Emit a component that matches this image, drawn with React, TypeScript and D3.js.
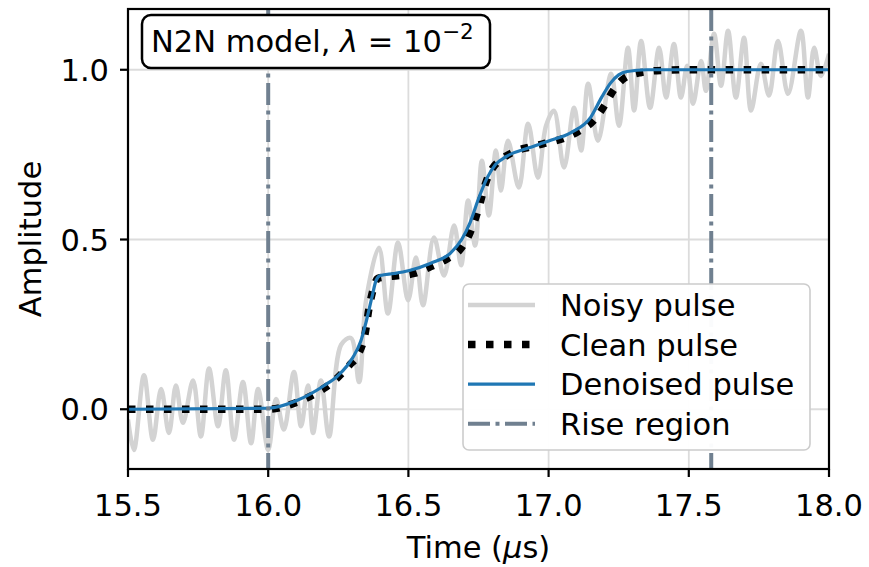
import React from "react";
import * as d3 from "d3";

const xTicks = [15.5, 16.0, 16.5, 17.0, 17.5, 18.0];
const yTicks = [0.0, 0.5, 1.0];
const riseRegion = [16.0, 17.58];

const cleanT = [15.5, 16.0, 16.1, 16.15, 16.2, 16.25, 16.29, 16.32, 16.345, 16.36, 16.375, 16.39, 16.42, 16.46, 16.52, 16.58, 16.64, 16.69, 16.72, 16.75, 16.775, 16.8, 16.83, 16.87, 16.93, 16.98, 17.05, 17.11, 17.16, 17.2, 17.23, 17.27, 17.33, 17.4, 17.5, 18.0];
const cleanV = [0, 0, 0.02, 0.038, 0.062, 0.095, 0.13, 0.16, 0.22, 0.3, 0.355, 0.385, 0.39, 0.393, 0.4, 0.42, 0.444, 0.476, 0.52, 0.59, 0.665, 0.71, 0.735, 0.756, 0.772, 0.782, 0.797, 0.82, 0.85, 0.895, 0.938, 0.975, 0.992, 0.998, 1.0, 1.0];

const denT = [15.5, 16.0, 16.1, 16.2, 16.25, 16.3, 16.33, 16.35, 16.37, 16.385, 16.4, 16.45, 16.5, 16.58, 16.65, 16.69, 16.72, 16.75, 16.78, 16.81, 16.85, 16.93, 17.0, 17.08, 17.15, 17.19, 17.22, 17.25, 17.28, 17.35, 18.0];
const denV = [0, 0.003, 0.025, 0.07, 0.1, 0.15, 0.2, 0.26, 0.33, 0.38, 0.394, 0.4, 0.408, 0.43, 0.46, 0.5, 0.55, 0.62, 0.68, 0.72, 0.745, 0.77, 0.79, 0.815, 0.86, 0.92, 0.96, 0.985, 0.995, 1.0, 1.0];

const noisyT = [15.5, 15.521, 15.557, 15.589, 15.618, 15.646, 15.671, 15.696, 15.732, 15.76, 15.789, 15.821, 15.849, 15.878, 15.91, 15.939, 15.964, 16.0, 16.028, 16.056, 16.092, 16.117, 16.142, 16.16, 16.188, 16.217, 16.26, 16.295, 16.324, 16.349, 16.395, 16.427, 16.463, 16.499, 16.527, 16.552, 16.591, 16.627, 16.663, 16.688, 16.713, 16.738, 16.762, 16.787, 16.812, 16.83, 16.855, 16.894, 16.927, 16.962, 16.991, 17.019, 17.055, 17.091, 17.116, 17.141, 17.176, 17.223, 17.251, 17.283, 17.305, 17.33, 17.362, 17.394, 17.419, 17.447, 17.472, 17.494, 17.515, 17.544, 17.561, 17.59, 17.615, 17.64, 17.668, 17.697, 17.722, 17.757, 17.786, 17.818, 17.854, 17.9, 17.925, 17.947, 17.971, 18.0];
const noisyV = [-0.03, -0.12, 0.1, -0.09, 0.06, -0.07, 0.07, -0.04, 0.085, -0.08, 0.12, -0.05, 0.115, -0.09, 0.08, -0.1, 0.06, -0.12, 0.03, -0.06, 0.11, -0.05, 0.07, -0.07, 0.085, -0.08, 0.19, 0.21, 0.08, 0.32, 0.476, 0.282, 0.491, 0.321, 0.447, 0.306, 0.506, 0.394, 0.541, 0.424, 0.615, 0.482, 0.732, 0.571, 0.762, 0.644, 0.791, 0.653, 0.841, 0.682, 0.835, 0.879, 0.712, 0.888, 0.762, 0.959, 0.791, 0.988, 0.835, 1.065, 0.88, 1.085, 0.888, 1.065, 0.918, 1.076, 0.918, 1.012, 0.9, 1.026, 0.938, 1.106, 0.953, 1.115, 0.918, 1.094, 0.88, 1.018, 0.924, 1.085, 0.929, 1.115, 0.918, 1.065, 0.982, 1.047];

const legendItems = ["Noisy pulse", "Clean pulse", "Denoised pulse", "Rise region"];

const W = 869, H = 567;
const M = { left: 128, right: 829, top: 9, bottom: 469 };
const FONT = "DejaVu Sans";
const FS = 30.5;

export default function App() {
  const x = d3.scaleLinear().domain([15.5, 18.0]).range([M.left, M.right]);
  const y = d3.scaleLinear().domain([-0.176, 1.179]).range([M.bottom, M.top]);

  const zip = (ts: number[], vs: number[]) => ts.map((t, i) => [t, vs[i]] as [number, number]);
  const lineMono = d3.line<[number, number]>().x(d => x(d[0])).y(d => y(d[1])).curve(d3.curveMonotoneX);
  const lineNoisy = d3.line<[number, number]>().x(d => x(d[0])).y(d => y(d[1])).curve(d3.curveCatmullRom.alpha(0.5));

  const slate = "#708090";
  const lw = 7.5;
  const dotDash = `7.5 10.5`;
  const rlw = 4;
  const dashDot = `22 5.5 4 5.5`;

  const legX = 463, legY = 284, legW = 347, legH = 166;
  const rowY = (i: number) => legY + 21 + i * 39.6;
  const hx0 = 468, hx1 = 535;

  return (
    <svg width={W} height={H} style={{ position: "absolute", left: 0, top: 0 }} fontFamily={FONT}>
      <defs>
        <clipPath id="plotclip">
          <rect x={M.left} y={M.top} width={M.right - M.left} height={M.bottom - M.top} />
        </clipPath>
      </defs>
      <rect x={0} y={0} width={W} height={H} fill="white" />
      {xTicks.map(t => (
        <line key={"gx" + t} x1={x(t)} x2={x(t)} y1={M.top} y2={M.bottom} stroke="#dcdcdc" strokeWidth={1.8} />
      ))}
      {yTicks.map(t => (
        <line key={"gy" + t} x1={M.left} x2={M.right} y1={y(t)} y2={y(t)} stroke="#dcdcdc" strokeWidth={1.8} />
      ))}
      <g clipPath="url(#plotclip)">
        <path d={lineNoisy(zip(noisyT, noisyV)) || ""} fill="none" stroke="#d3d3d3" strokeWidth={4.5} strokeLinejoin="round" />
        <path d={lineMono(zip(cleanT, cleanV)) || ""} fill="none" stroke="black" strokeWidth={lw} strokeDasharray={dotDash} />
        <path d={lineMono(zip(denT, denV)) || ""} fill="none" stroke="#1f77b4" strokeWidth={3.2} />
        {riseRegion.map(r => (
          <line key={"r" + r} x1={x(r)} x2={x(r)} y1={M.top} y2={M.bottom} stroke={slate} strokeWidth={rlw} strokeDasharray={dashDot} />
        ))}
      </g>
      <rect x={M.left} y={M.top} width={M.right - M.left} height={M.bottom - M.top} fill="none" stroke="black" strokeWidth={2.2} />
      {xTicks.map(t => (
        <g key={"xt" + t}>
          <line x1={x(t)} x2={x(t)} y1={M.bottom} y2={M.bottom + 8} stroke="black" strokeWidth={2.2} />
          <text x={x(t)} y={516} textAnchor="middle" fontSize={FS}>{t.toFixed(1)}</text>
        </g>
      ))}
      {yTicks.map(t => (
        <g key={"yt" + t}>
          <line x1={M.left - 8} x2={M.left} y1={y(t)} y2={y(t)} stroke="black" strokeWidth={2.2} />
          <text x={M.left - 19} y={y(t) + 11} textAnchor="end" fontSize={FS}>{t.toFixed(1)}</text>
        </g>
      ))}
      <text x={(M.left + M.right) / 2} y={558} textAnchor="middle" fontSize={FS}>
        Time (<tspan fontStyle="italic">μ</tspan>s)
      </text>
      <text transform={`translate(41, 239) rotate(-90)`} textAnchor="middle" fontSize={FS}>Amplitude</text>
      <rect x={142} y={15} width={348} height={53} rx={9} fill="white" stroke="black" strokeWidth={2.5} />
      <text x={151} y={52} fontSize={FS} style={{ whiteSpace: "pre" }}>
        N2N model, <tspan fontStyle="italic">λ</tspan>{" = 10"}<tspan dy={-13} fontSize={21.5}>−2</tspan>
      </text>
      <rect x={legX} y={legY} width={legW} height={legH} rx={6} fill="white" fillOpacity={0.97} stroke="#cccccc" strokeWidth={1.6} />
      {legendItems.map((name, i) => {
        const yy = rowY(i);
        let handle;
        if (i === 0) handle = <line x1={hx0} x2={hx1} y1={yy} y2={yy} stroke="#d3d3d3" strokeWidth={4.5} />;
        else if (i === 1) handle = <line x1={hx0} x2={hx1} y1={yy} y2={yy} stroke="black" strokeWidth={lw} strokeDasharray={dotDash} />;
        else if (i === 2) handle = <line x1={hx0} x2={hx1} y1={yy} y2={yy} stroke="#1f77b4" strokeWidth={3.2} />;
        else handle = <line x1={hx0} x2={hx1} y1={yy} y2={yy} stroke={slate} strokeWidth={rlw} strokeDasharray={dashDot} />;
        return (
          <g key={name}>
            {handle}
            <text x={560} y={yy + 11} fontSize={FS}>{name}</text>
          </g>
        );
      })}
    </svg>
  );
}
